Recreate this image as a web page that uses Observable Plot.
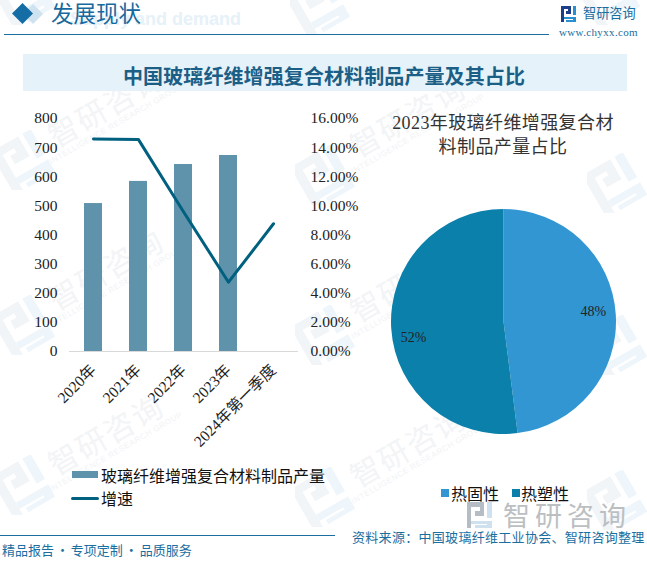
<!DOCTYPE html>
<html><head><meta charset="utf-8">
<script src="https://cdn.jsdelivr.net/npm/d3@7"></script>
<script src="https://cdn.jsdelivr.net/npm/@observablehq/plot@0.6"></script>
<style>
html,body{margin:0;padding:0;background:#fff;}
#page{position:relative;width:647px;height:564px;overflow:hidden;font-family:"Noto Sans CJK SC",sans-serif;}
#page>div,#page>svg,.abs{position:absolute;}
.t{white-space:nowrap;line-height:1;}
.serif{font-family:"Liberation Serif","Noto Sans CJK SC",serif;}
.wm{position:absolute;white-space:nowrap;transform:translate(-50%,-50%) rotate(-30deg);color:#f2f4f6;font-size:30px;letter-spacing:2px;line-height:1;text-align:center;}
.wm small{display:block;font-size:8px;letter-spacing:.6px;color:#f1f3f5;margin-top:3px;font-family:"Liberation Sans",sans-serif;}
.wl{position:absolute;}
#chart svg,#pie svg{background:transparent;overflow:visible;display:block;}
</style></head><body>
<div id="page">
  <div id="wmarks" style="left:0;top:0;width:647px;height:564px"></div>

  <div class="t" style="left:70px;top:9px;font:700 18px 'Liberation Sans',sans-serif;color:#e6f1f8;">Supply and demand</div>
  <svg style="left:0;top:0" width="50" height="30"><path d="M33 4 L43 14 L33 24 L23 14Z" fill="#cfe2ef"/><path d="M22.5 3 L33 13.5 L22.5 24 L12 13.5Z" fill="#156da5"/></svg>
  <div class="t" style="left:51px;top:1px;font-size:22.5px;color:#186a9e;">发展现状</div>
  <div style="left:4px;top:34px;width:545px;height:1px;background:#1a6ea0;"></div>
  <svg style="left:561px;top:6px" width="16" height="16"><path d="M0 0H10V8H5V5H7V3H3V16H0Z" fill="#1d3f8a"/><path d="M12 0h3v9h-3z M3 11h12v5H5v-2h7v-1H3z" fill="#2a8fd0"/></svg>
  <div class="t" style="left:583px;top:6px;font-size:13.2px;color:#1a6ea0;">智研咨询</div>
  <div class="t serif" style="left:559px;top:27px;font-size:11px;color:#1a6ea0;letter-spacing:.35px;">www.chyxx.com</div>

  <div style="left:23px;top:54px;width:604px;height:37px;background:#e6f2fa;"></div>
  <div class="t" style="left:123px;top:66px;font-size:20px;letter-spacing:.1px;font-weight:700;color:#1c5f86;">中国玻璃纤维增强复合材料制品产量及其占比</div>

  <div id="chart" style="left:0;top:100px"></div>
  <div id="pie" style="left:380px;top:200px"></div>

  <div class="t serif" style="left:383px;top:111px;width:240px;text-align:center;font-size:18px;letter-spacing:.4px;line-height:24px;color:#333;white-space:normal;">2023年玻璃纤维增强复合材<br>料制品产量占比</div>

  <div style="left:72px;top:471px;width:26px;height:7px;background:#5f93ab;"></div>
  <div class="t" style="left:101px;top:467px;font-size:16px;color:#111;">玻璃纤维增强复合材料制品产量</div>
  <div style="left:71px;top:497px;width:28px;height:3px;border-radius:1.5px;background:#00607f;"></div>
  <div class="t" style="left:101px;top:490px;font-size:16px;color:#111;">增速</div>

  <div style="left:441px;top:489px;width:8px;height:8px;background:#3296d3;"></div>
  <div class="t" style="left:451px;top:485px;font-size:16px;color:#111;">热固性</div>
  <div style="left:512px;top:489px;width:8px;height:8px;background:#0b80ab;"></div>
  <div class="t" style="left:521px;top:485px;font-size:16px;color:#111;">热塑性</div>

  <div class="t" style="left:503px;top:501px;font-size:27px;color:#bcbfc2;letter-spacing:5px;">智研咨询</div>
  <svg style="left:467px;top:502px" width="26" height="26"><path d="M0 0H17V14H8V9H13V5H4V26H0Z" fill="#b5bcc4"/><path d="M20 0h5v16h-5z M4 19h21v7H8v-3h12v-1H4z" fill="#cfe0ee"/></svg>

  <div style="left:0;top:535px;width:335px;height:1px;background:#1a6ea0;"></div>
  <div class="t" style="left:2px;top:543px;font-size:13px;color:#1a6ea0;word-spacing:-1px;">精品报告 · 专项定制 · 品质服务</div>
  <div class="t" style="left:352px;top:530px;font-size:13px;color:#1a6ea0;letter-spacing:.3px;">资料来源：中国玻璃纤维工业协会、智研咨询整理</div>
</div>
<script>
const categories = ["2020年","2021年","2022年","2023年","2024年第一季度"];
const output = [508,584,642,673,null];
const growth = [14.6,14.55,9.6,4.76,8.77];
const pieLabels = ["热固性","热塑性"];
const pieValues = [48,52];
const pieColors = ["#3296d3","#0b80ab"];
const wmText = [[108,110],[108,273],[108,438],[410,120],[410,285],[410,450]];
const wmLogo = [[25,160],[25,325],[25,485],[325,175],[325,335],[325,497],[617,183],[617,345],[617,500],[320,5],[610,-5],[25,-5]];

const wm = document.getElementById("wmarks");
for (const [x,y] of wmText) {
  const d = document.createElement("div");
  d.className = "wm"; d.style.left = x+"px"; d.style.top = y+"px";
  d.innerHTML = "智研咨询<small>INTELLIGENCE RESEARCH GROUP</small>";
  wm.appendChild(d);
}
for (const [x,y] of wmLogo) {
  const s = document.createElementNS("http://www.w3.org/2000/svg","svg");
  s.setAttribute("class","wl"); s.setAttribute("width",60); s.setAttribute("height",60); s.setAttribute("viewBox","0 0 50 50");
  s.style.left=(x-30)+"px"; s.style.top=(y-30)+"px";
  s.innerHTML='<g transform="rotate(-30 25 25)"><path d="M3 5H30V24H16V16H22V12H11V46H3Z" fill="#f1f5f8"/><path d="M34 5h8v24h-8z M11 34h31v12H16v-4h18v-2H11z" fill="#eef6fb"/></g>';
  wm.appendChild(s);
}

const rows = categories.map((c,i)=>({c,v:output[i],g:growth[i]}));
const serif = "'Liberation Serif','Noto Sans CJK SC',serif";
const plot = Plot.plot({
  width:370, height:360,
  marginLeft:69, marginRight:72, marginTop:18, marginBottom:109,
  style:{background:"transparent",fontFamily:serif,fontSize:"15.5px",color:"#222"},
  x:{type:"band",domain:categories,paddingInner:0.6,paddingOuter:0.3,label:null},
  y:{domain:[0,800],label:null},
  marks:[
    Plot.barY(rows.filter(d=>d.v!=null),{x:"c",y:"v",fill:"#5f93ab"}),
    Plot.ruleY([0],{stroke:"#d9d9d9",strokeWidth:1}),
    Plot.line(rows,{x:"c",y:d=>d.g*50,stroke:"#00607f",strokeWidth:3,curve:"linear"}),
    Plot.axisY({anchor:"left",ticks:d3.range(0,801,100),tickSize:0,tickPadding:12,label:null,fontSize:15.5}),
    Plot.axisY({anchor:"right",ticks:d3.range(0,801,100),tickFormat:d=>(d/50).toFixed(2)+"%",tickSize:0,tickPadding:12,label:null,textAnchor:"start",fontSize:15.5}),
    Plot.axisX({tickSize:0,tickRotate:-45,tickPadding:16,label:null,fontSize:15.5})
  ]
});
document.getElementById("chart").appendChild(plot);

const R = 112.5;
const pieMark = () => {
  const g = d3.create("svg:g").attr("transform",`translate(${R+11},${R+9})`);
  const arcs = d3.pie().sort(null)(pieValues);
  const arc = d3.arc().innerRadius(0).outerRadius(R);
  const lab = d3.arc().innerRadius(R*0.8).outerRadius(R*0.8);
  g.selectAll("path").data(arcs).join("path").attr("d",arc).attr("fill",(d,i)=>pieColors[i]);
  const shift = [-5,10];
  g.selectAll("text").data(arcs).join("text")
    .attr("transform",(d,i)=>{const [x,y]=lab.centroid(d);return `translate(${x},${y+shift[i]})`;})
    .attr("text-anchor","middle").attr("dy","0.35em")
    .attr("font-family",serif).attr("font-size",14).attr("fill","#222")
    .text((d,i)=>pieValues[i]+"%");
  return g.node();
};
document.getElementById("pie").appendChild(Plot.plot({
  width:250,height:240,margin:0,axis:null,
  x:{domain:[0,1]},y:{domain:[0,1]},
  style:{background:"transparent"},
  marks:[pieMark]
}));
</script>
</body></html>
